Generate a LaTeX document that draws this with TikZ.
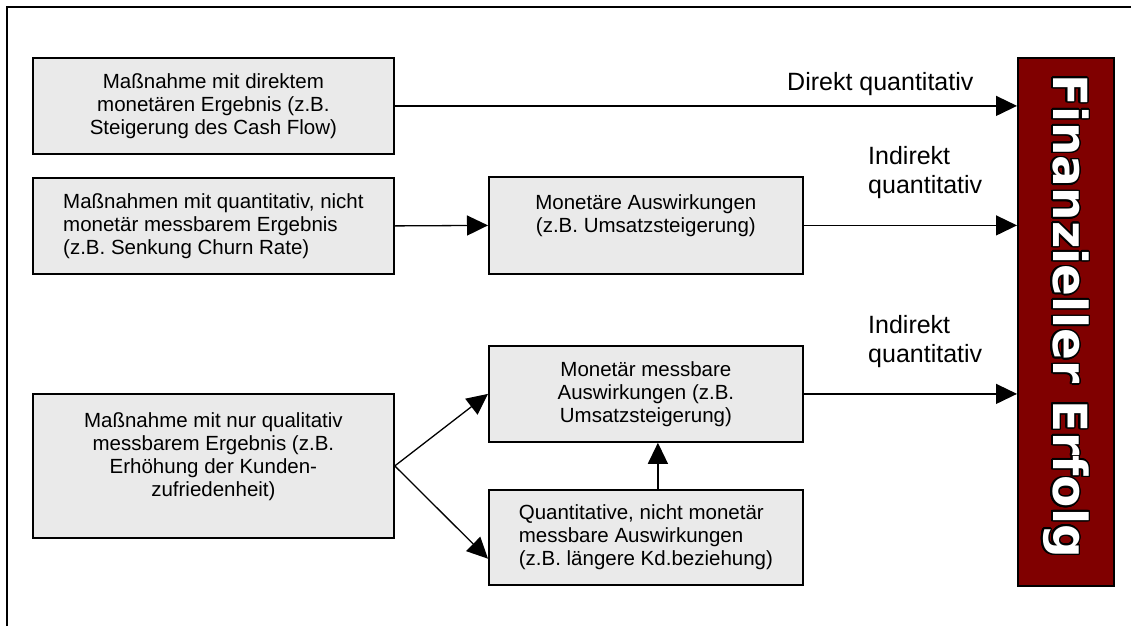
\documentclass[tikz,border=0pt]{standalone}
\usepackage{fontspec}
\setmainfont{Liberation Sans}
\newfontfamily\heavyfont{DejaVu Sans}
\usepackage[copies]{contour}
\usetikzlibrary{arrows.meta,calc}
\definecolor{boxgray}{HTML}{EAEAEA}
\definecolor{maroon}{HTML}{800000}
\begin{document}
\begin{tikzpicture}[x=1pt,y=-1pt,
  box/.style={draw=black,line width=1.8pt,fill=boxgray,inner sep=0pt,
    font=\fontsize{20.5}{23}\selectfont},
  flow/.style={line width=1.3pt,-{Triangle[length=21pt,width=20pt]}},
  lbl/.style={inner sep=0pt,align=left,font=\fontsize{25}{29}\selectfont}]
\useasboundingbox (0,0) rectangle (1131,626);

% outer frame (top and left edge)
\draw[line width=1.3pt] (7,626) -- (7,7) -- (1131,7);

% measures and effects
\node[box,minimum width=361pt,minimum height=96pt,anchor=north west,align=center] (b1) at (32,57)
  {Maßnahme mit direktem\\monetären Ergebnis (z.B.\\Steigerung des Cash Flow)};
\node[box,minimum width=361pt,minimum height=96pt,anchor=north west,align=left] (b2) at (32,177)
  {Maßnahmen mit quantitativ, nicht\\monetär messbarem Ergebnis\\(z.B. Senkung Churn Rate)};
\node[box,minimum width=314pt,minimum height=97pt,anchor=north west,align=center] (b3) at (488,176)
  {Monetäre Auswirkungen\\(z.B. Umsatzsteigerung)\\\mbox{}};
\node[box,minimum width=361pt,minimum height=144pt,anchor=north west,align=center] (b4) at (32,393)
  {Maßnahme mit nur qualitativ\\messbarem Ergebnis (z.B.\\Erhöhung der Kunden-\\zufriedenheit)\\\mbox{}};
\node[box,minimum width=314pt,minimum height=96pt,anchor=north west,align=center] (b5) at (488,345)
  {Monetär messbare\\Auswirkungen (z.B.\\Umsatzsteigerung)};
\node[box,minimum width=314pt,minimum height=95pt,anchor=north west,align=left] (b6) at (488,489)
  {Quantitative, nicht monetär\\messbare Auswirkungen\\(z.B. längere Kd.beziehung)};

% financial success bar
\node[draw=black,line width=1.8pt,fill=maroon,minimum width=96pt,minimum height=528pt,
  anchor=north west,inner sep=0pt] (fin) at (1017,57) {};
\contourlength{1.5pt}
\contournumber{24}
\node[rotate=-90,anchor=base,inner sep=0pt,font=\heavyfont\bfseries\fontsize{47}{47}\selectfont]
  (fintext) at (1053,316) {\contour{black}{\textcolor{white}{Finanzieller Erfolg}}};

% connectors
\draw[flow] (b1.east) -- (b1.east -| fin.west);
\draw[flow] (b2.east) -- (b3.west);
\draw[flow] (b3.east) -- (b3.east -| fin.west);
\draw[flow] (b5.east) -- (b5.east -| fin.west);
\draw[flow] (b4.east) -- (b5.west);
\draw[flow] (b4.east) -- ($(b6.north west)!0.72!(b6.south west)$);
\draw[flow] ($(b6.north)+(12,0)$) -- ($(b5.south)+(12,0)$);

% connector labels (base anchor sits on the last line)
\node[lbl,anchor=base west] (l1) at (787,90) {Direkt quantitativ};
\node[lbl,anchor=base west] (l2) at (868,193) {Indirekt\\quantitativ};
\node[lbl,anchor=base west] (l3) at (868,362) {Indirekt\\quantitativ};
\end{tikzpicture}
\end{document}
